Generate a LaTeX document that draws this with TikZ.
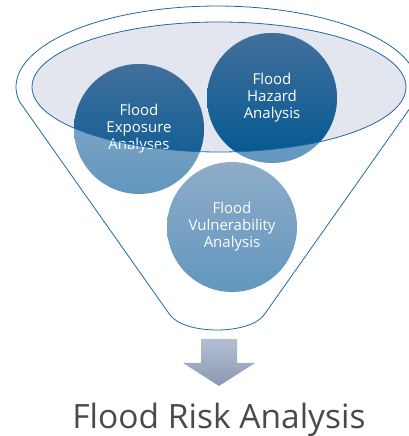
\documentclass[tikz,border=0pt]{standalone}
\usepackage{fontspec}
\setmainfont{Open Sans}
\usepackage{tikz}
\usetikzlibrary{positioning, calc}
\definecolor{funnelblue}{RGB}{31, 105, 160}
\definecolor{rimgrey}{RGB}{227, 230, 238}
\definecolor{deeptop}{RGB}{66, 111, 156}
\definecolor{deepbottom}{RGB}{0, 88, 146}
\definecolor{paletop}{RGB}{143, 172, 201}
\definecolor{palebottom}{RGB}{97, 151, 190}
\definecolor{arrowtop}{RGB}{178, 190, 209}
\definecolor{arrowbottom}{RGB}{140, 153, 181}
\definecolor{titlegrey}{RGB}{70, 75, 76}
\tikzset{
  funnelline/.style={draw=funnelblue, line width=0.8pt},
  palecircle/.style={circle, minimum size=130pt, inner sep=0pt, top color=paletop, bottom color=palebottom},
  deepfill/.style={top color=deeptop, bottom color=deepbottom},
  circtext/.style={align=center, text=white, font=\fontsize{15}{17}\selectfont},
  titletext/.style={text=titlegrey, font=\fontsize{33.5}{38}\selectfont},
  downarrow/.style={top color=arrowtop, bottom color=arrowbottom}
}

\begin{document}
\begin{tikzpicture}[x=1pt, y=1pt]
    \useasboundingbox (0,0) rectangle (409,436);

    % funnel body
    \draw[funnelline] (170,121) -- (19.1,334.9) arc[start angle=190, end angle=-10, x radius=201, y radius=81]
        -- (264,121) .. controls (249,101) and (185,101) .. (170,121) -- cycle;
    \fill[rimgrey] (219,349) ellipse [x radius=187, y radius=65];

    \node (expo) [palecircle] at (139,307) {};
    \node (hazard) [palecircle] at (272,338) {};
    \node (vuln) [palecircle] at (232,209) {};
    \begin{scope}
        \clip (219,349) ellipse [x radius=187, y radius=65];
        \shade[deepfill] (expo.center) circle (65);
        \shade[deepfill] (hazard.center) circle (65);
    \end{scope}

    \node (expotext) [circtext] at (expo) {Flood\\Exposure\\Analyses};
    \node (hazardtext) [circtext] at (hazard) {Flood\\Hazard\\Analysis};
    \node (vulntext) [circtext] at (vuln) {Flood\\Vulnerability\\Analysis};

    \draw[funnelline] (219,349) ellipse [x radius=187, y radius=65];

    \shade[downarrow] (201,97) -- (237,97) -- (237,73) -- (255,73) -- (219,50) -- (183,73) -- (201,73) -- cycle;
    \node (risk) [titletext, anchor=base] at (219,7) {Flood Risk Analysis};
\end{tikzpicture}
\end{document}
